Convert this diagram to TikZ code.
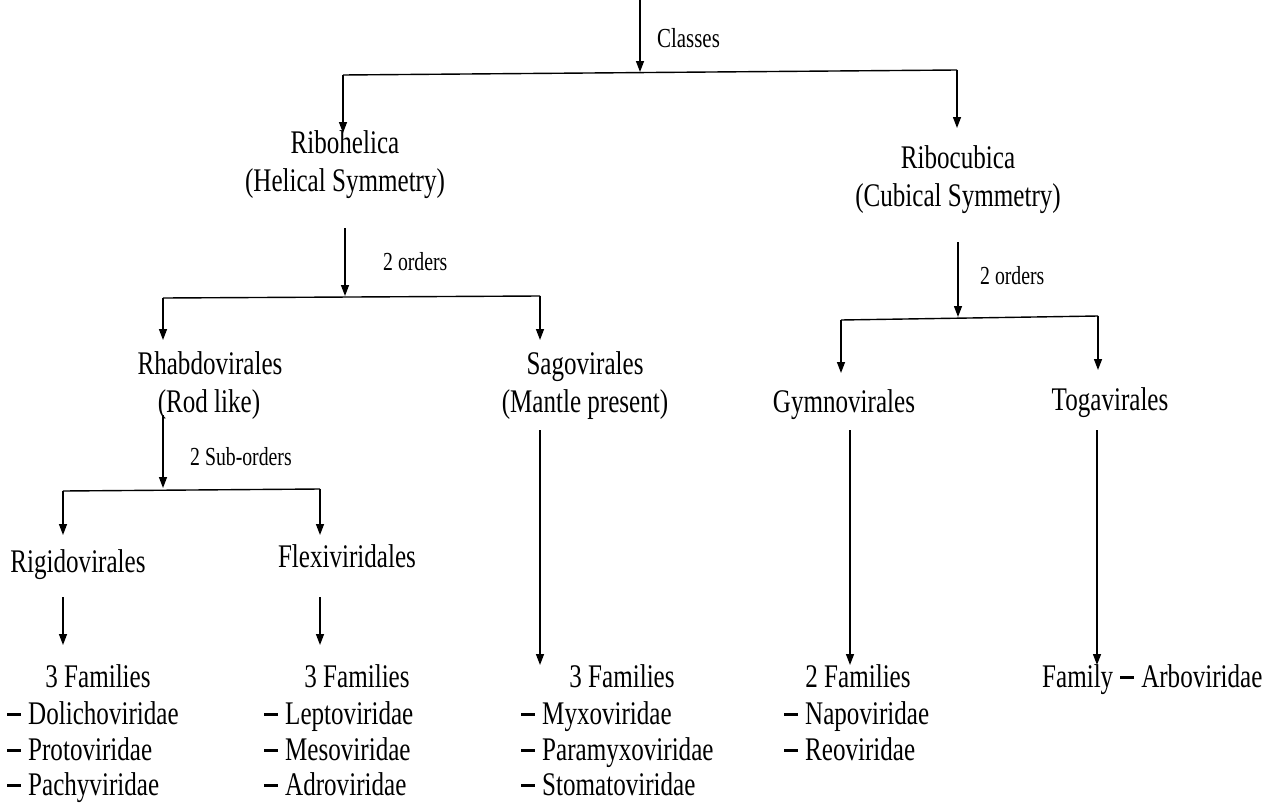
\documentclass[tikz,border=0pt]{standalone}
\usepackage{fontspec}
\setmainfont[FakeStretch=0.76]{Liberation Serif}
\usetikzlibrary{arrows.meta}
\newcommand{\dsh}{\rule[8.5pt]{14pt}{2.6pt}\hspace{7pt}}
\tikzset{
  txt/.style={anchor=base, inner sep=0pt, font=\fontsize{33}{38}\selectfont},
  ltxt/.style={anchor=base west, inner sep=0pt, font=\fontsize{33}{38}\selectfont},
  lbl/.style={anchor=base west, inner sep=0pt, font=\fontsize{26}{30}\selectfont},
  ln/.style={line width=1.4pt},
  arr/.style={line width=1.4pt, -{Triangle[length=11pt,width=8pt]}}
}
\begin{document}
\begin{tikzpicture}[x=1pt,y=-1pt]
\useasboundingbox (0,0) rectangle (1280,803);
% coordinates
\coordinate (top) at (640,0);
\coordinate (b1m) at (640,72);
\coordinate (b1l) at (343,75);
\coordinate (b1r) at (957,70);
\coordinate (t1l) at (343,133);
\coordinate (t1r) at (957,128);
% level 1 text
\node[lbl] (classes) at (657,47) {\fontsize{27.5}{30}\selectfont Classes};
\node[txt] (ribo1) at (345,153) {Ribohelica};
\node[txt] (ribo1b) at (345,191) {(Helical Symmetry)};
\node[txt] (ribo2) at (958,168) {Ribocubica};
\node[txt] (ribo2b) at (958,206) {(Cubical Symmetry)};
\draw[arr] (top) -- (b1m);
\draw[ln] (b1l) -- (b1r);
\draw[arr] (b1l) -- (t1l);
\draw[arr] (b1r) -- (t1r);
% Ribohelica orders
\coordinate (h0) at (345,228);
\coordinate (h1) at (345,296);
\coordinate (h1l) at (163,298);
\coordinate (h1r) at (540,296);
\coordinate (h2l) at (163,340);
\coordinate (h2r) at (540,340);
\node[lbl] (ord1) at (383,270) {2 orders};
\draw[arr] (h0) -- (h1);
\draw[ln] (h1l) -- (h1r);
\draw[arr] (h1l) -- (h2l);
\draw[arr] (h1r) -- (h2r);
\node[txt] (rhab) at (210,374) {Rhabdovirales};
\node[txt] (rhabb) at (209,412) {(Rod like)};
\node[txt] (sago) at (585,374) {Sagovirales};
\node[txt] (sagob) at (585,412) {(Mantle present)};
% Ribocubica orders
\coordinate (c0) at (958,242);
\coordinate (c1) at (958,317);
\coordinate (c1l) at (841,320);
\coordinate (c1r) at (1098,316);
\coordinate (c2l) at (841,373);
\coordinate (c2r) at (1098,370);
\node[lbl] (ord2) at (980,284) {2 orders};
\draw[arr] (c0) -- (c1);
\draw[ln] (c1l) -- (c1r);
\draw[arr] (c1l) -- (c2l);
\draw[arr] (c1r) -- (c2r);
\node[txt] (gymn) at (844,412) {Gymnovirales};
\node[txt] (toga) at (1110,410) {Togavirales};
% Rhabdovirales sub-orders
\coordinate (r0) at (163,415);
\coordinate (r1) at (163,488);
\coordinate (r1l) at (63,491);
\coordinate (r1r) at (320,489);
\coordinate (r2l) at (63,535);
\coordinate (r2r) at (320,535);
\node[lbl] (sub) at (190,465) {2 Sub-orders};
\draw[arr] (r0) -- (r1);
\draw[ln] (r1l) -- (r1r);
\draw[arr] (r1l) -- (r2l);
\draw[arr] (r1r) -- (r2r);
\node[txt] (rigi) at (78,572) {Rigidovirales};
\node[txt] (flex) at (347,567) {Flexiviridales};
% arrows to families
\coordinate (f1a) at (63,597);
\coordinate (f1b) at (63,645);
\coordinate (f2a) at (320,597);
\coordinate (f2b) at (320,645);
\coordinate (f3a) at (540,430);
\coordinate (f3b) at (540,665);
\coordinate (f4a) at (850,430);
\coordinate (f4b) at (850,665);
\coordinate (f5a) at (1097,430);
\coordinate (f5b) at (1097,665);
\draw[arr] (f1a) -- (f1b);
\draw[arr] (f2a) -- (f2b);
\draw[arr] (f3a) -- (f3b);
\draw[arr] (f4a) -- (f4b);
\draw[arr] (f5a) -- (f5b);
% families
\node[txt] (fam1) at (98,687) {3 Families};
\node[ltxt] (fam1a) at (7,724) {\dsh Dolichoviridae};
\node[ltxt] (fam1b) at (7,760) {\dsh Protoviridae};
\node[ltxt] (fam1c) at (7,795) {\dsh Pachyviridae};
\node[txt] (fam2) at (357,687) {3 Families};
\node[ltxt] (fam2a) at (264,724) {\dsh Leptoviridae};
\node[ltxt] (fam2b) at (264,760) {\dsh Mesoviridae};
\node[ltxt] (fam2c) at (264,795) {\dsh Adroviridae};
\node[txt] (fam3) at (622,687) {3 Families};
\node[ltxt] (fam3a) at (521,724) {\dsh Myxoviridae};
\node[ltxt] (fam3b) at (521,760) {\dsh Paramyxoviridae};
\node[ltxt] (fam3c) at (521,795) {\dsh Stomatoviridae};
\node[txt] (fam4) at (858,687) {2 Families};
\node[ltxt] (fam4a) at (784,724) {\dsh Napoviridae};
\node[ltxt] (fam4b) at (784,760) {\dsh Reoviridae};
\node[ltxt] (fam5) at (1042,687) {Family\hspace{7pt}\dsh Arboviridae};
\end{tikzpicture}
\end{document}
